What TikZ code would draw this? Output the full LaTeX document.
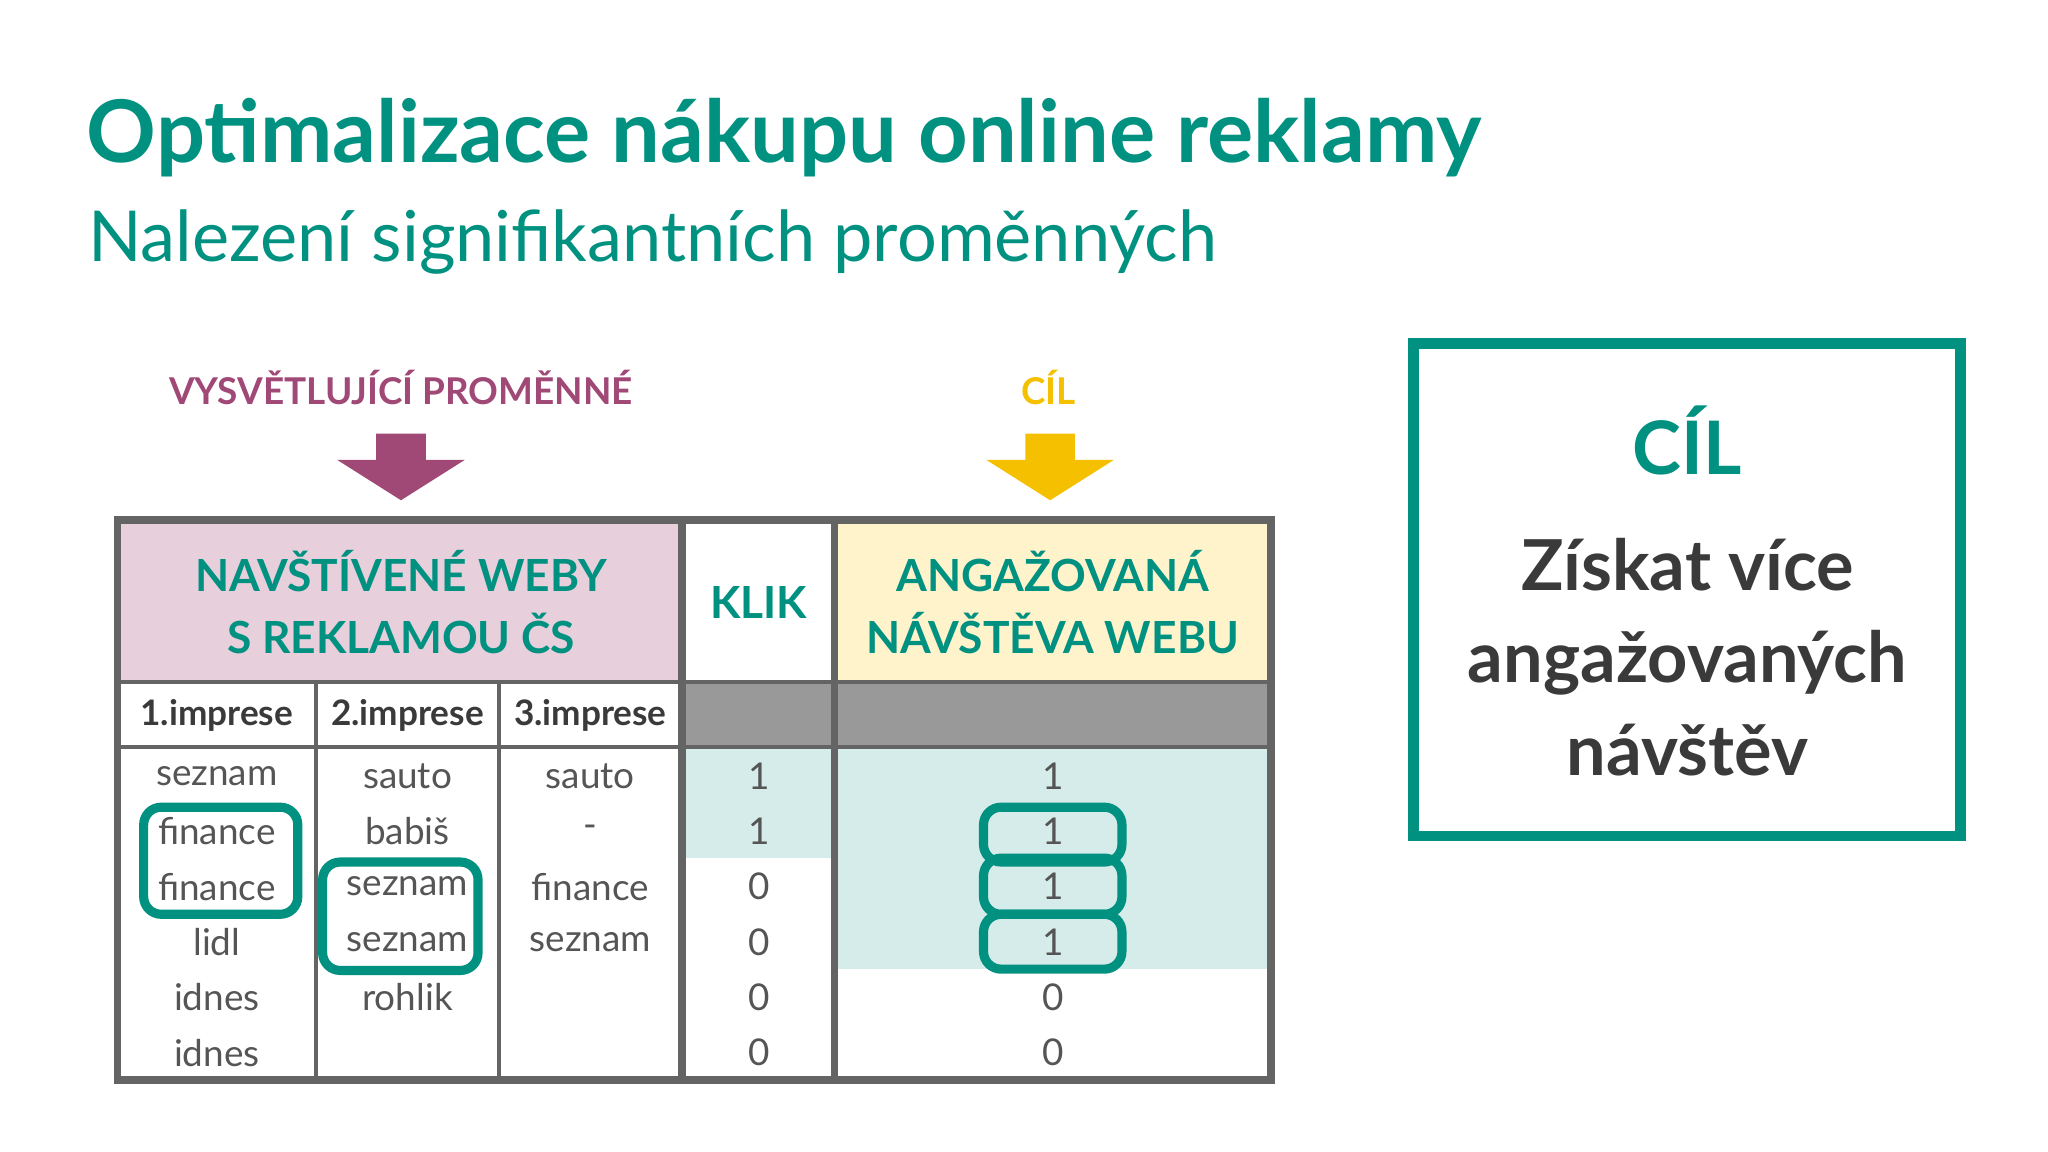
\documentclass[tikz,border=0pt]{standalone}
\usepackage{fontspec}
\setmainfont{Lato}
\definecolor{teal}{RGB}{0,145,128}
\definecolor{mag}{RGB}{160,72,118}
\definecolor{yel}{RGB}{245,192,0}
\definecolor{pinkf}{RGB}{232,207,220}
\definecolor{yelf}{RGB}{255,243,204}
\definecolor{grayh}{RGB}{153,153,153}
\definecolor{lteal}{RGB}{213,236,234}
\definecolor{bord}{RGB}{100,100,100}
\definecolor{dark}{RGB}{58,58,58}
\definecolor{cell}{RGB}{85,85,85}
\tikzset{
 hdr/.style={font=\bfseries\fontsize{12.6}{17.8}\selectfont,text=teal,align=center},
 sub/.style={font=\bfseries\fontsize{10}{12}\selectfont,text=dark},
 cl/.style={font=\fontsize{10.5}{12}\selectfont,text=cell},
 grid/.style={draw=bord,line width=1.2pt},
 hl/.style={draw=teal,line width=2.6pt,rounded corners=5pt},
}
\begin{document}
\begin{tikzpicture}[x=0.013061cm,y=-0.013061cm]
\useasboundingbox[fill=white] (0,0) rectangle (1568,882);
\node[anchor=west,font=\bfseries\fontsize{24.6}{30}\selectfont,text=teal] (title) at (57,105) {Optimalizace nákupu online reklamy};
\node[anchor=west,font=\fontsize{20}{24}\selectfont,text=teal] (subt) at (58,185) {Nalezení signifikantních proměnných};
% labels and arrows
\node[font=\bfseries\fontsize{10.5}{12}\selectfont,text=mag] (lv) at (307,297) {VYSVĚTLUJÍCÍ PROMĚNNÉ};
\node[font=\bfseries\fontsize{10.5}{12}\selectfont,text=yel] (lc) at (803,297) {CÍL};
\fill[mag] (288,332) -- (326,332) -- (326,352) -- (356,352) -- (307,383) -- (258,352) -- (288,352) -- cycle;
\fill[yel] (785,332) -- (823,332) -- (823,352) -- (853,352) -- (804,383) -- (755,352) -- (785,352) -- cycle;
% fills
\fill[pinkf] (90,398) rectangle (522,522);
\fill[yelf] (639,398) rectangle (973,522);
\fill[grayh] (522,522) rectangle (973,572);
\fill[lteal] (522,572) rectangle (639,657);
\fill[lteal] (639,572) rectangle (973,742);
% grid
\draw[grid] (90,522) -- (973,522);
\draw[grid] (90,572) -- (973,572);
\draw[grid] (242,522) -- (242,827);
\draw[grid] (382,522) -- (382,827);
\draw[draw=bord,line width=2.2pt] (522,398) -- (522,827);
\draw[draw=bord,line width=2.2pt] (639,398) -- (639,827);
\draw[draw=bord,line width=2.2pt] (90,398) rectangle (973,827);
% header text
\node[hdr] (h1) at (307,461) {NAVŠTÍVENÉ WEBY\\S REKLAMOU ČS};
\node[hdr] (h2) at (581,461) {KLIK};
\node[hdr] (h3) at (806,461) {ANGAŽOVANÁ\\NÁVŠTĚVA WEBU};
\node[sub] (s1) at (166,548) {1.imprese};
\node[sub] (s2) at (312,548) {2.imprese};
\node[sub] (s3) at (452,548) {3.imprese};
% cells
\foreach \a/\b/\c/\d/\e [count=\i] in {seznam/sauto/sauto/1/1, finance/babiš/-/1/1, finance/seznam/finance/0/1, lidl/seznam/seznam/0/1, idnes/rohlik//0/0, idnes///0/0}{
 \pgfmathsetmacro{\yy}{594+(\i-1)*42.4}
 \node[cl] (c1-\i) at (166,\yy) {\a};
 \node[cl] (c2-\i) at (312,\yy) {\b};
 \node[cl] (c3-\i) at (452,\yy) {\c};
 \node[cl] (c4-\i) at (581,\yy) {\d};
 \node[cl] (c5-\i) at (806,\yy) {\e};
}
% highlights
\draw[hl] (110,618) rectangle (228,700);
\draw[hl] (247,660) rectangle (366,743);
\draw[hl] (753,618) rectangle (859,660);
\draw[hl] (753,657) rectangle (859,700);
\draw[hl] (753,700) rectangle (859,742);
% right box
\draw[teal,line width=3pt] (1082,263) rectangle (1501,640);
\node[font=\bfseries\fontsize{21}{25}\selectfont,text=teal] (cil) at (1292,337) {CÍL};
\node[font=\bfseries\fontsize{20}{26.3}\selectfont,text=dark,align=center] (goal) at (1292,503) {Získat více\\angažovaných\\návštěv};
\end{tikzpicture}
\end{document}
